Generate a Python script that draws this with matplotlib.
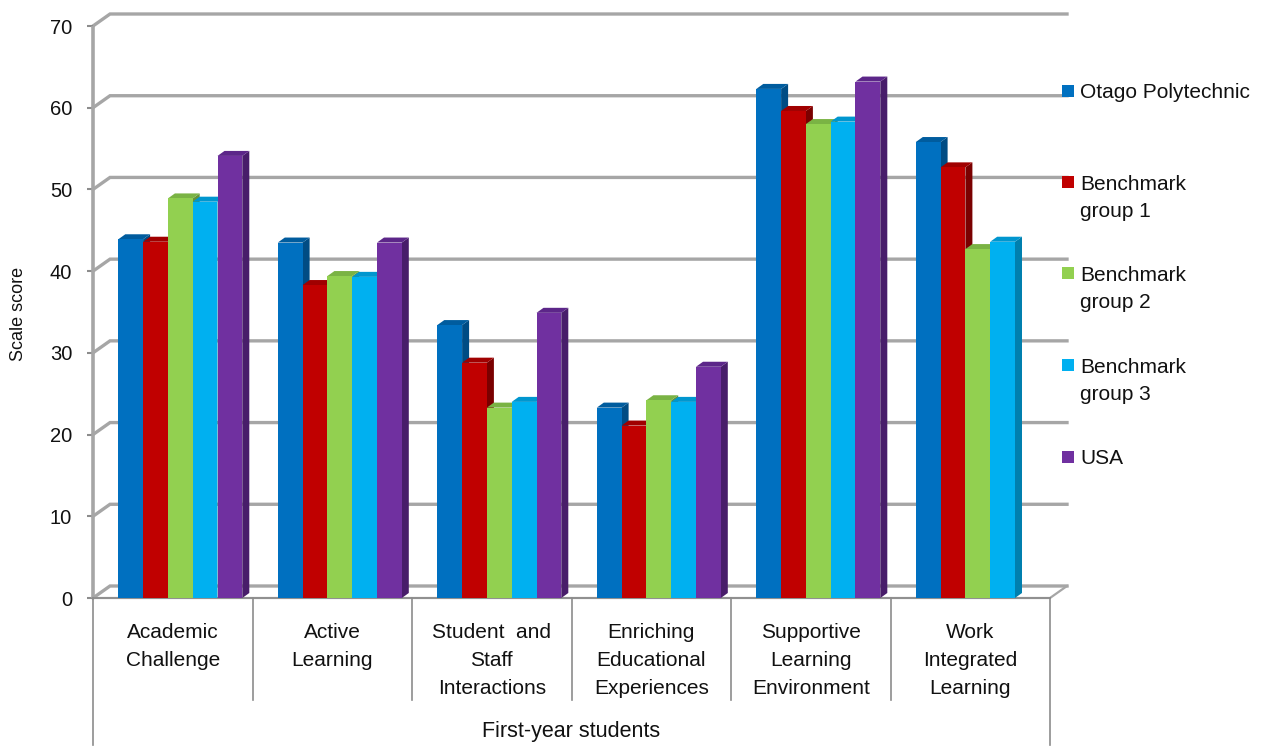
import numpy as np
import matplotlib.pyplot as plt
from matplotlib.patches import Polygon, Rectangle
from matplotlib.transforms import blended_transform_factory

plt.rcParams['font.family'] = ['Liberation Sans', 'DejaVu Sans']

categories = ['Academic\nChallenge', 'Active\nLearning', 'Student  and\nStaff\nInteractions',
              'Enriching\nEducational\nExperiences', 'Supportive\nLearning\nEnvironment',
              'Work\nIntegrated\nLearning']
series_names = ['Otago Polytechnic', 'Benchmark\ngroup 1', 'Benchmark\ngroup 2',
                'Benchmark\ngroup 3', 'USA']

otago = [43.9, 43.5, 33.4, 23.3, 62.3, 55.8]
bench1 = [43.6, 38.3, 28.8, 21.1, 59.6, 52.7]
bench2 = [48.9, 39.4, 23.3, 24.2, 58.0, 42.7]
bench3 = [48.5, 39.3, 24.0, 24.0, 58.3, 43.6]
usa = [54.1, 43.5, 34.9, 28.3, 63.2, np.nan]
all_series = [otago, bench1, bench2, bench3, usa]

front_cols = ['#0070C0', '#C00000', '#92D050', '#00B0F0', '#7030A0']
top_cols = ['#005C9E', '#A00000', '#7AB344', '#0096CF', '#5C2689']
side_cols = ['#004C84', '#7A0000', '#63933A', '#007FAE', '#481D6A']
grid_col = '#A6A6A6'

W, H = 1264, 746
fig = plt.figure(figsize=(W / 100, H / 100), dpi=100)

# front plane of the plot: x 93..1050 px, y 0 -> 598 px, 70 -> 26 px
x0_px, x1_px, y0_px, y70_px = 93, 1050, 598, 26
ax = fig.add_axes([x0_px / W, 1 - y0_px / H, (x1_px - x0_px) / W, (y0_px - y70_px) / H])
ncat = len(categories)
ax.set_xlim(0, ncat)
ax.set_ylim(0, 70)
ppx = (x1_px - x0_px) / ncat       # pixels per category unit
ppy = (y0_px - y70_px) / 70.0      # pixels per score unit

# back wall offset and bar depth, converted to data units
wall_dx, wall_dy = 17 / ppx, 12 / ppy
bar_dx, bar_dy = 7 / ppx, 5 / ppy

for s in ax.spines.values():
    s.set_visible(False)
ax.set_xticks([])
ax.set_yticks(np.arange(0, 71, 10))
ax.tick_params(axis='y', length=4.5, width=1.5, color='#8C8C8C', pad=10.5,
               labelsize=14.5, labelcolor='#111111')
ax.set_facecolor('none')

# left front axis
ax.plot([0, 0], [0, 70], color=grid_col, lw=2.6, solid_capstyle='butt', zorder=2, clip_on=False)

# gridlines on the back wall, joined to the front axis
for v in range(0, 71, 10):
    ax.plot([0, wall_dx, ncat + wall_dx], [v, v + wall_dy, v + wall_dy],
            color=grid_col, lw=2.4, zorder=1, clip_on=False, solid_joinstyle='miter')
# floor front edge
ax.plot([0, ncat, ncat + wall_dx], [0, 0, wall_dy], color=grid_col, lw=1.6, zorder=1, clip_on=False)

# bars with side and top faces
bw = 24.8 / ppx
off = 25.3 / ppx
for si, vals in enumerate(all_series):
    lefts = np.arange(ncat) + off + si * bw
    z = 3 + si * 3
    for xl, v in zip(lefts, vals):
        if np.isnan(v):
            continue
        xr = xl + bw
        ax.add_patch(Polygon([(xr, 0), (xr + bar_dx, bar_dy), (xr + bar_dx, v + bar_dy), (xr, v)],
                             closed=True, fc=side_cols[si], ec='none', zorder=z, clip_on=False))
        ax.add_patch(Polygon([(xl, v), (xr, v), (xr + bar_dx, v + bar_dy), (xl + bar_dx, v + bar_dy)],
                             closed=True, fc=top_cols[si], ec='none', zorder=z + 1, clip_on=False))
    ax.bar(lefts, vals, width=bw, align='edge', color=front_cols[si], zorder=z + 2, clip_on=False)

# category table under the plot
tr = blended_transform_factory(ax.transData, fig.transFigure)
line_col = '#8C8C8C'
ax.plot([0, ncat], [1 - 598 / H, 1 - 598 / H], transform=tr, color=line_col, lw=1.2, clip_on=False)
for i in range(ncat + 1):
    bottom = 745 if i in (0, ncat) else 700
    ax.plot([i, i], [1 - 598 / H, 1 - bottom / H], transform=tr, color=line_col, lw=1.2, clip_on=False)
for i, lab in enumerate(categories):
    ax.text(i + 0.5, 1 - 623.5 / H, lab, transform=tr, ha='center', va='top',
            fontsize=15, linespacing=1.6, color='#111111')
ax.text(ncat / 2, 1 - 737 / H, 'First-year students', transform=tr, ha='center',
        va='baseline', fontsize=15.5, color='#111111')

fig.text(19 / W, 1 - 314 / H, 'Scale score', rotation=90, ha='center', va='center',
         fontsize=13, color='#111111')

# legend
leg_y = [90.5, 181.5, 273, 365, 456.5]
for si, name in enumerate(series_names):
    yc = leg_y[si]
    fig.add_artist(Rectangle((1062 / W, 1 - (yc + 6) / H), 12 / W, 12 / H,
                             transform=fig.transFigure, fc=front_cols[si], ec='none'))
    fig.text(1080 / W, 1 - (yc - 7) / H, name, ha='left', va='top',
             fontsize=15, linespacing=1.55, color='#111111')

fig.savefig('out.png', dpi=100)
